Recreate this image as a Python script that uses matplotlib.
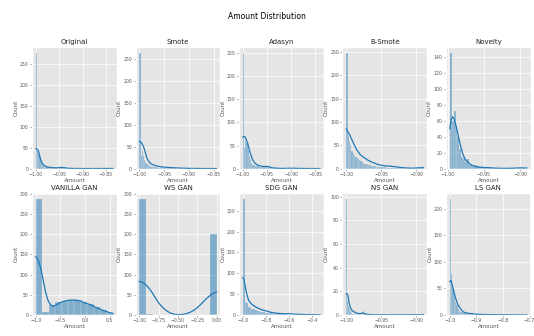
import numpy as np
import matplotlib
matplotlib.use('Agg')
import matplotlib.pyplot as plt
from matplotlib.ticker import MultipleLocator

plt.style.use('ggplot')

# panel titles, in grid order
titles = ['Original', 'Smote', 'Adasyn', 'B-Smote', 'Novelty',
          'VANILLA GAN', 'WS GAN', 'SDG GAN', 'NS GAN', 'LS GAN']

# histogram data: (lowest edge, highest edge) and the bin counts
orig_range = (-1.0, -0.835)
orig_counts = [276, 42, 38, 30, 18, 10, 7, 5, 4, 3, 3, 2, 2, 2, 1, 1, 1, 1, 1, 0, 1, 1,
               2, 3, 2, 1, 1, 0, 1, 0, 0, 0, 0, 1, 0, 0, 0, 0, 0, 0, 0, 0, 0, 0, 0, 0,
               0, 0, 0, 0, 0, 0, 0, 0, 0, 0, 0, 0, 0, 0, 0, 0, 1, 0, 0, 1]
orig_kde_x = [-1.0, -0.998, -0.996, -0.994, -0.992, -0.99, -0.987, -0.984, -0.98, -0.975,
              -0.97, -0.965, -0.96, -0.955, -0.95, -0.945, -0.94, -0.935, -0.93, -0.92,
              -0.9, -0.88, -0.86, -0.835]
orig_kde_y = [48, 47, 45, 40, 30, 22, 14, 9, 6, 4, 3, 2.5, 2, 2, 2.5, 3, 2.5, 1.5, 1, 0.5,
              0.3, 0.3, 0.4, 0.5]

smote_range = (-1.0, -0.844)
smote_counts = [265, 30, 40, 28, 20, 14, 10, 8, 6, 5, 4, 4, 3, 3, 3, 2, 2, 2, 2, 1, 1, 1,
                1, 1, 1, 1, 1, 1, 0, 1, 0, 0, 1, 0, 0, 0, 0, 1, 0, 0, 0, 0, 0, 0, 0, 0,
                0, 0, 0, 0, 0, 0, 0, 0, 0, 0, 0, 0, 0, 0, 0, 0, 0, 1]
smote_kde_x = [-1.0, -0.996, -0.993, -0.99, -0.985, -0.98, -0.975, -0.965, -0.955, -0.945,
               -0.93, -0.91, -0.89, -0.87, -0.844]
smote_kde_y = [62, 60, 54, 45, 25, 15, 10, 6, 4, 3, 2, 1, 0.5, 0.3, 0.3]

adasyn_range = (-1.0, -0.84)
adasyn_counts = [250, 45, 60, 55, 40, 28, 18, 12, 9, 7, 6, 5, 5, 4, 4, 4, 4, 4, 5, 5, 4,
                 3, 2, 1, 1, 1, 0, 1, 0, 0, 0, 1, 0, 1, 0, 0, 0, 0, 1, 1, 0, 0, 0, 0, 0,
                 0, 0, 0, 0, 0, 0, 0, 0, 0, 0, 0, 0, 0, 0, 0, 0, 0, 0, 1]
adasyn_kde_x = [-1.0, -0.998, -0.995, -0.99, -0.985, -0.98, -0.975, -0.97, -0.965, -0.96,
                -0.955, -0.95, -0.945, -0.94, -0.93, -0.92, -0.9, -0.88, -0.86, -0.84]
adasyn_kde_y = [68, 70, 68, 55, 35, 20, 12, 8, 6, 5, 4.5, 5, 4, 2, 1, 0.5, 1, 0.5, 0.3, 0.3]

bsmote_range = (-1.0, -0.89)
bsmote_counts = [248, 70, 60, 50, 38, 32, 28, 25, 22, 20, 18, 16, 14, 12, 11, 10, 9, 8, 7,
                 6, 6, 5, 5, 4, 4, 4, 4, 3, 3, 3, 3, 2, 2, 2, 2, 2, 1, 1, 1, 1, 1, 1, 1,
                 0, 1, 0, 0, 1, 0, 0, 0, 0, 0, 0, 1, 1, 2, 1, 1, 1]
bsmote_kde_x = [-1.0, -0.995, -0.99, -0.985, -0.98, -0.975, -0.97, -0.965, -0.955, -0.945,
                -0.935, -0.925, -0.915, -0.905, -0.895, -0.89]
bsmote_kde_y = [85, 72, 55, 40, 30, 24, 19, 15, 9, 6, 5, 3, 1.5, 1, 2, 2]

novelty_range = (-0.997, -0.891)
novelty_counts = [145, 60, 72, 55, 40, 25, 15, 12, 8, 12, 5, 4, 3, 5, 3, 2, 2, 1, 1, 1,
                  2, 1, 0, 1, 0, 0, 0, 0, 0, 0, 0, 0, 0, 0, 0, 1, 1, 0, 1, 0]
novelty_kde_x = [-0.997, -0.995, -0.993, -0.991, -0.988, -0.985, -0.982, -0.979, -0.976,
                 -0.972, -0.968, -0.963, -0.958, -0.95, -0.94, -0.93, -0.92, -0.91, -0.9,
                 -0.891]
novelty_kde_y = [50, 62, 65, 62, 52, 40, 28, 18, 12, 8, 5, 3, 2, 1.5, 1, 0.5, 0.4, 0.6,
                 1, 0.8]

vanilla_range = (-1.0, 0.572)
vanilla_counts = [287, 8, 25, 33, 35, 36, 36, 33, 28, 20, 12, 6]
vanilla_kde_x = [-1.0, -0.95, -0.9, -0.85, -0.8, -0.75, -0.7, -0.65, -0.6, -0.5, -0.4,
                 -0.3, -0.2, -0.1, 0.0, 0.1, 0.2, 0.3, 0.4, 0.5, 0.572]
vanilla_kde_y = [145, 135, 115, 85, 55, 35, 25, 22, 24, 31, 35, 37, 37, 35, 30, 26, 20,
                 15, 10, 6, 4]

ws_range = (-1.0, 0.0)
ws_counts = [287, 2, 0, 0, 0, 0, 0, 0, 0, 0, 200]
ws_kde_x = [-1.0, -0.95, -0.9, -0.85, -0.8, -0.75, -0.7, -0.65, -0.6, -0.55, -0.5, -0.45,
            -0.4, -0.35, -0.3, -0.25, -0.2, -0.15, -0.1, -0.05, 0.0]
ws_kde_y = [83, 80, 72, 60, 45, 30, 19, 11, 5, 2, 1, 1, 3, 6, 11, 18, 27, 37, 46, 53, 57]

sdg_range = (-1.0, -0.33)
sdg_counts = [278, 30, 28, 20, 18, 15, 14, 12, 10, 9, 8, 7, 6, 5, 5, 4, 4, 3, 3, 3, 2, 2,
              2, 2, 2, 1, 1, 1, 1, 1, 1, 1, 1, 1, 0, 1, 0, 1, 0, 0, 1, 0, 0, 0, 1]
sdg_kde_x = [-1.0, -0.99, -0.98, -0.97, -0.95, -0.92, -0.88, -0.84, -0.8, -0.75, -0.7,
             -0.65, -0.6, -0.55, -0.5, -0.45, -0.4, -0.33]
sdg_kde_y = [90, 85, 70, 55, 35, 25, 18, 13, 10, 6, 4, 3, 3, 2, 1.5, 1, 1, 0.5]

ns_range = (-1.0, -0.89)
ns_counts = [98, 12, 8, 5, 3, 2, 2, 1, 1, 1, 0, 1, 0, 0, 0, 0, 0, 0, 0, 3, 1, 0, 0, 0,
             0, 0, 0, 0, 0, 0, 0, 0, 0, 0, 0, 0, 0, 0, 0, 0, 0, 0, 0, 0, 0, 0, 0, 0,
             0, 0, 0, 0, 0, 0, 0, 0, 0, 0, 0, 0, 0, 0, 0, 0, 0, 0, 0, 0, 0, 0, 0, 0,
             0, 0, 0, 0, 0, 0, 0, 0, 0, 0, 0, 0, 0, 0, 0, 1]
ns_kde_x = [-1.0, -0.999, -0.998, -0.997, -0.996, -0.994, -0.992, -0.99, -0.985, -0.98,
            -0.977, -0.974, -0.97, -0.96, -0.95, -0.93, -0.91, -0.89]
ns_kde_y = [18, 18, 17, 14, 10, 6, 4, 3, 1.5, 1, 1.8, 1.2, 0.5, 0.2, 0.2, 0.2, 0.2, 0.3]

ls_range = (-1.0, -0.71)
ls_counts = [218, 78, 50, 40, 25, 18, 12, 8, 6, 5, 4, 3, 3, 2, 2, 2, 1, 1, 1, 1, 1, 1,
             1, 0, 1, 0, 1, 0, 0, 1, 0, 0, 0, 0, 1, 0, 0, 0, 0, 0, 0, 0, 0, 0, 0, 0,
             0, 0, 0, 0, 0, 0, 0, 0, 0, 0, 0, 1]
ls_kde_x = [-1.0, -0.995, -0.99, -0.985, -0.98, -0.975, -0.97, -0.96, -0.95, -0.94, -0.92,
            -0.9, -0.88, -0.85, -0.8, -0.75, -0.71]
ls_kde_y = [63, 65, 55, 45, 35, 27, 20, 12, 6, 4, 2.5, 1.5, 1, 0.8, 0.5, 0.3, 0.2]

ranges = [orig_range, smote_range, adasyn_range, bsmote_range, novelty_range,
          vanilla_range, ws_range, sdg_range, ns_range, ls_range]
counts = [orig_counts, smote_counts, adasyn_counts, bsmote_counts, novelty_counts,
          vanilla_counts, ws_counts, sdg_counts, ns_counts, ls_counts]
kde_x = [orig_kde_x, smote_kde_x, adasyn_kde_x, bsmote_kde_x, novelty_kde_x,
         vanilla_kde_x, ws_kde_x, sdg_kde_x, ns_kde_x, ls_kde_x]
kde_y = [orig_kde_y, smote_kde_y, adasyn_kde_y, bsmote_kde_y, novelty_kde_y,
         vanilla_kde_y, ws_kde_y, sdg_kde_y, ns_kde_y, ls_kde_y]

# x tick spacing per panel
x_steps = [0.05, 0.05, 0.05, 0.05, 0.05, 0.5, 0.25, 0.2, 0.05, 0.1]

blue = '#1f77b4'

fig, axes = plt.subplots(2, 5, figsize=(5.34, 3.36), dpi=100)
fig.subplots_adjust(left=0.06, right=0.994, bottom=0.0625, top=0.86,
                    wspace=0.219, hspace=0.203)

for ax, t, r, c, kx, ky, st in zip(axes.flat, titles, ranges, counts, kde_x, kde_y, x_steps):
    edges = np.linspace(r[0], r[1], len(c) + 1)
    ax.bar(edges[:-1], c, width=np.diff(edges), align='edge',
           color=blue, alpha=0.5, edgecolor='#EEEEEE', linewidth=0.3)
    ax.plot(kx, ky, color=blue, lw=0.9)
    ax.xaxis.set_major_locator(MultipleLocator(st))
    ax.set_title(t, fontsize=5, pad=2.5, color='#222222')
    ax.set_xlabel('Amount', fontsize=4, labelpad=0.5, color='#555555')
    ax.set_ylabel('Count', fontsize=4, labelpad=1, color='#555555')
    ax.tick_params(labelsize=3.3, length=1.5, width=0.4, pad=1)
    ax.grid(True, color='white', linewidth=0.5)

fig.suptitle('Amount Distribution', fontsize=5.5, y=0.965)

plt.savefig('out.png', dpi=100)
